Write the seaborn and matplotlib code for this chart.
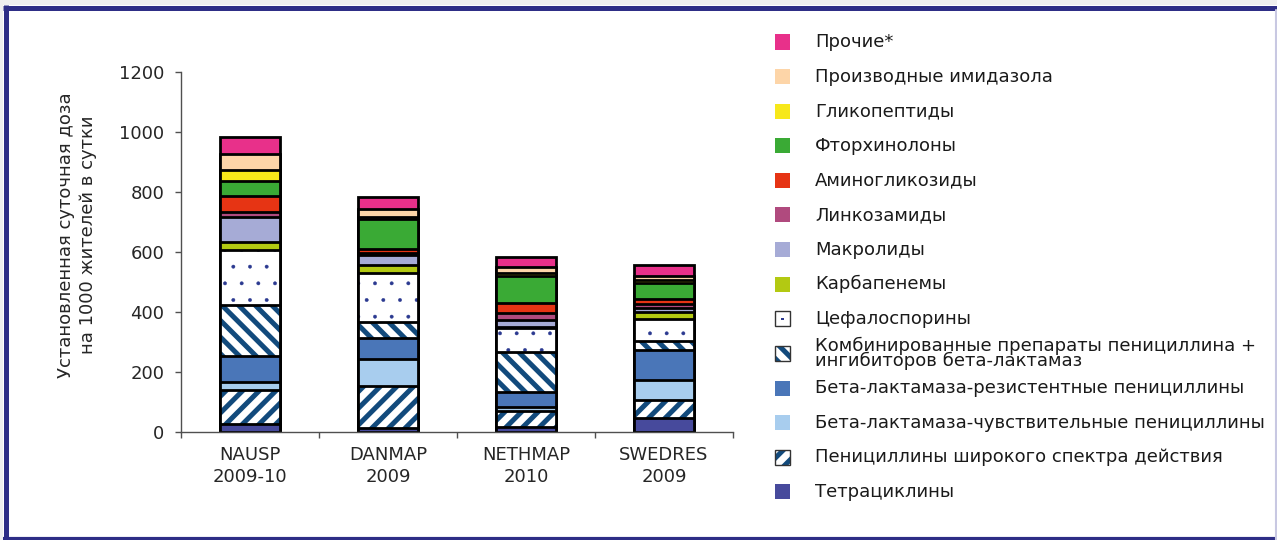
import matplotlib
matplotlib.use("Agg")
import matplotlib.pyplot as plt
from matplotlib.patches import Rectangle
from matplotlib.lines import Line2D
import numpy as np
import pandas as pd
import seaborn as sns

# data (DDD per 1000 inhabitants per day), classes from bottom of the stack to top
sources = ["NAUSP\n2009-10", "DANMAP\n2009", "NETHMAP\n2010", "SWEDRES\n2009"]

classes = [
    "Тетрациклины",
    "Пенициллины широкого спектра действия",
    "Бета-лактамаза-чувствительные пенициллины",
    "Бета-лактамаза-резистентные пенициллины",
    "Комбинированные препараты пенициллина +\nингибиторов бета-лактамаз",
    "Цефалоспорины",
    "Карбапенемы",
    "Макролиды",
    "Линкозамиды",
    "Аминогликозиды",
    "Фторхинолоны",
    "Гликопептиды",
    "Производные имидазола",
    "Прочие*",
]

tetra      = [27, 15, 16, 48]
broad_pen  = [113, 138, 55, 58]
bl_sens    = [26, 92, 11, 69]
bl_res     = [89, 69, 52, 100]
combo      = [167, 54, 134, 28]
cephalo    = [185, 161, 78, 74]
carbapen   = [26, 28, 5, 24]
macrolides = [83, 33, 24, 12]
lincos     = [16, 5, 21, 14]
aminogly   = [53, 14, 33, 16]
fluoro     = [53, 100, 91, 53]
glyco      = [35, 8, 10, 12]
imidazole  = [54, 25, 19, 12]
others     = [55, 40, 35, 38]

yticks = [0, 200, 400, 600, 800, 1000, 1200]

layers = [tetra, broad_pen, bl_sens, bl_res, combo, cephalo, carbapen,
          macrolides, lincos, aminogly, fluoro, glyco, imidazole, others]

# style per class: (facecolor, hatch, hatch colour)
STRIPE = "#124a7c"
styles = [
    ("#474a9c", None, None),
    ("white", "//", STRIPE),
    ("#a8cdee", None, None),
    ("#4a76b8", None, None),
    ("white", "\\\\", STRIPE),
    ("white", ".", "#2b3990"),
    ("#b3c912", None, None),
    ("#a6abd6", None, None),
    ("#b04a7e", None, None),
    ("#e63414", None, None),
    ("#3aaa35", None, None),
    ("#f7e81a", None, None),
    ("#fdd5a8", None, None),
    ("#e8308a", None, None),
]


def hatch_lw(hatch):
    # thick stripes, tiny dots
    return 0.3 if hatch == "." else 3.6


sns.set_theme(style="white")
plt.rcParams["font.family"] = ["DejaVu Sans"]

fig = plt.figure(figsize=(12.77, 5.40), dpi=100)
ax = fig.add_axes([181 / 1277, 108 / 540, 552 / 1277, 360 / 540])

# stacked bars: draw cumulative totals from the top class down
cum = np.cumsum(np.array(layers), axis=0)
BW = 0.44
for k in reversed(range(len(layers))):
    df = pd.DataFrame({"source": sources, "value": cum[k]})
    face, hatch, hc = styles[k]
    if hatch:
        plt.rcParams["hatch.linewidth"] = hatch_lw(hatch)
        n0 = len(ax.patches)
        sns.barplot(data=df, x="source", y="value", color=face, saturation=1,
                    width=BW, hatch=hatch, edgecolor=hc, linewidth=0, ax=ax)
        for p in ax.patches[n0:]:
            if hasattr(p, "set_hatch_linewidth"):
                p.set_hatch_linewidth(hatch_lw(hatch))
    else:
        sns.barplot(data=df, x="source", y="value", color=face, saturation=1,
                    width=BW, linewidth=0, ax=ax)
    sns.barplot(data=df, x="source", y="value", color="black", fill=False,
                saturation=1, width=BW, linewidth=2.0, ax=ax)

ax.set_xlim(-0.5, 3.5)
ax.set_ylim(0, 1200)
ax.set_yticks(yticks)
ax.set_xlabel("")
ax.set_ylabel("")
for s in ["top", "right"]:
    ax.spines[s].set_visible(False)
for s in ["left", "bottom"]:
    ax.spines[s].set_color("#505050")
    ax.spines[s].set_linewidth(1.0)
ax.tick_params(axis="y", which="major", direction="out", length=4, width=1,
               color="#505050", labelsize=13, pad=8, left=True)
ax.tick_params(axis="x", which="major", length=0, labelsize=13, pad=10)
ax.set_xticks([-0.5, 0.5, 1.5, 2.5, 3.5], minor=True)
ax.tick_params(axis="x", which="minor", direction="out", length=4, width=1,
               color="#505050", bottom=True)
for t in ax.get_xticklabels():
    t.set_linespacing(1.3)

fig.text(77 / 1277, 1 - 235 / 540,
         "Установленная суточная доза\nна 1000 жителей в сутки",
         rotation=90, ha="center", va="center", fontsize=13, linespacing=1.25)

# legend, listed from top class to bottom class
sq = 15
for i, k in enumerate(reversed(range(len(layers)))):
    yc = 42 + 34.6 * i
    face, hatch, hc = styles[k]
    x0, y0 = 775 / 1277, 1 - (yc + sq / 2) / 540
    if hatch:
        plt.rcParams["hatch.linewidth"] = hatch_lw(hatch)
        r = Rectangle((x0, y0), sq / 1277, sq / 540, transform=fig.transFigure,
                      facecolor="white", hatch=hatch if hatch != "." else None,
                      edgecolor=hc, linewidth=0)
        if hasattr(r, "set_hatch_linewidth") and hatch != ".":
            r.set_hatch_linewidth(hatch_lw(hatch))
        fig.add_artist(r)
        if hatch == ".":
            fig.add_artist(Rectangle(((775 + sq / 2 - 1.2) / 1277, 1 - (yc + 1.2) / 540),
                                     2.4 / 1277, 2.4 / 540, transform=fig.transFigure,
                                     facecolor=hc, linewidth=0))
        fig.add_artist(Rectangle((x0, y0), sq / 1277, sq / 540,
                                 transform=fig.transFigure, fill=False,
                                 edgecolor="#333333", linewidth=1.0))
    else:
        fig.add_artist(Rectangle((x0, y0), sq / 1277, sq / 540,
                                 transform=fig.transFigure, facecolor=face,
                                 linewidth=0))
    fig.text(815 / 1277, 1 - yc / 540, classes[k], ha="left", va="center",
             fontsize=13, linespacing=0.8, color="#1a1a1a")

# page frame
fig.add_artist(Rectangle((0, 1 - 5 / 540), 1, 5 / 540, transform=fig.transFigure,
                         facecolor="#efefef", linewidth=0))
fig.add_artist(Rectangle((0, 0), 3 / 1277, 1, transform=fig.transFigure,
                         facecolor="#efefef", linewidth=0))
BLUE = "#2e2e86"
fig.add_artist(Line2D([3 / 1277, 1], [1 - 7.5 / 540] * 2, transform=fig.transFigure,
                      color=BLUE, linewidth=3.6, solid_capstyle="butt"))
fig.add_artist(Line2D([5.5 / 1277] * 2, [0, 1 - 5 / 540], transform=fig.transFigure,
                      color=BLUE, linewidth=3.6, solid_capstyle="butt"))
fig.add_artist(Line2D([3 / 1277, 1], [1.5 / 540] * 2, transform=fig.transFigure,
                      color=BLUE, linewidth=3.0, solid_capstyle="butt"))
fig.add_artist(Line2D([1276 / 1277] * 2, [0, 1 - 10 / 540], transform=fig.transFigure,
                      color="#c8c8e2", linewidth=1.5))

fig.savefig("out.png", dpi=100)
